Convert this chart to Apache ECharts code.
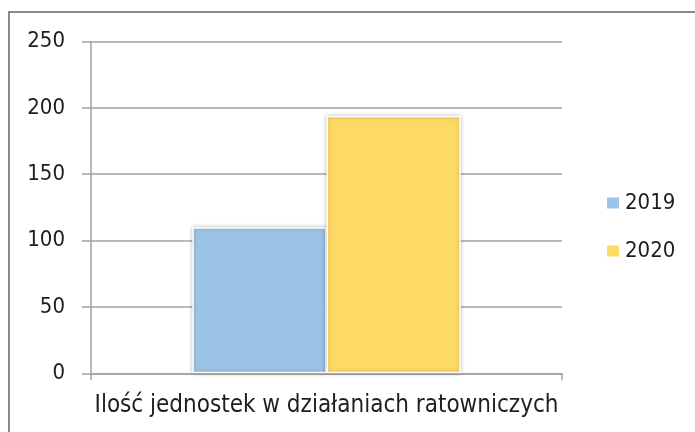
<!DOCTYPE html>
<html>
<head>
<meta charset="utf-8">
<script src="https://cdn.jsdelivr.net/npm/echarts@6/dist/echarts.min.js"></script>
<style>
  html, body { margin: 0; padding: 0; background: #fff; }
  #chart { width: 695px; height: 432px; }
</style>
</head>
<body>
<div id="chart"></div>
<script>
// Units engaged in rescue operations, per year
const categories = ['Ilość jednostek w działaniach ratowniczych'];
const seriesNames = ['2019', '2020'];
const values2019 = [110];
const values2020 = [194];
const yTicks = { min: 0, max: 250, interval: 50 };

const font = '"DejaVu Sans Condensed", "Liberation Sans Narrow", sans-serif';
const gridColor = '#a3a3a3';
const textColor = '#1e1e1e';

const chart = echarts.init(document.getElementById('chart'), null, { renderer: 'canvas' });
chart.setOption({
  animation: false,
  backgroundColor: '#ffffff',
  graphic: [{
    type: 'polyline',
    shape: { points: [[9, 440], [9, 12], [700, 12]] },
    style: { stroke: '#8a8a8a', lineWidth: 2, fill: null }
  }],
  grid: { left: 91, right: 133, top: 41.5, bottom: 58.7 },
  legend: {
    orient: 'vertical',
    left: 600,
    top: 187,
    padding: 5,
    itemGap: 26,
    itemWidth: 14,
    itemHeight: 13,
    icon: 'rect',
    textStyle: { fontFamily: font, fontSize: 22, lineHeight: 22, color: textColor },
    data: seriesNames
  },
  xAxis: {
    type: 'category',
    data: categories,
    axisLine: { lineStyle: { color: gridColor, width: 1.5 } },
    axisTick: { show: true, length: 7, lineStyle: { color: gridColor, width: 1.5 } },
    axisLabel: { fontFamily: font, fontSize: 24, color: textColor, margin: 20 }
  },
  yAxis: {
    type: 'value',
    min: yTicks.min,
    max: yTicks.max,
    interval: yTicks.interval,
    axisLine: { show: true, lineStyle: { color: gridColor, width: 1.5 } },
    axisTick: { show: true, length: 9, lineStyle: { color: gridColor, width: 1.5 } },
    splitLine: { lineStyle: { color: gridColor, width: 1.5 } },
    axisLabel: { fontFamily: font, fontSize: 22, color: textColor, margin: 26 }
  },
  series: [
    {
      name: seriesNames[0],
      type: 'bar',
      data: values2019,
      barGap: '0%',
      barCategoryGap: '43%',
      itemStyle: {
        color: '#9dc3e6', borderColor: '#ffffff', borderWidth: 1.5,
        shadowColor: 'rgba(0,0,0,0.25)', shadowBlur: 4
      }
    },
    {
      name: seriesNames[1],
      type: 'bar',
      data: values2020,
      itemStyle: {
        color: '#ffd966', borderColor: '#ffffff', borderWidth: 1.5,
        shadowColor: 'rgba(0,0,0,0.25)', shadowBlur: 4
      }
    }
  ]
});
</script>
</body>
</html>
